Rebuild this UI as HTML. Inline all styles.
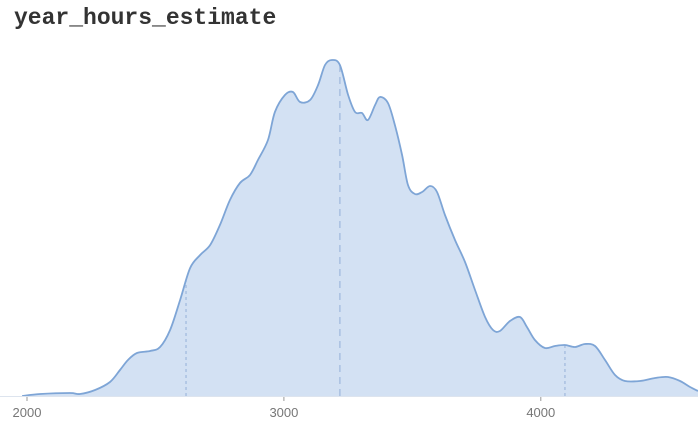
<!DOCTYPE html>
<html><head><meta charset="utf-8">
<style>
body{margin:0;background:#fff;width:698px;height:428px;overflow:hidden;}
#title{position:absolute;left:14px;top:5px;font:bold 23px "Liberation Mono",monospace;color:#333;}
svg{position:absolute;left:0;top:0;}
</style></head><body>
<div id="title">year_hours_estimate</div>
<svg id="chart" width="698" height="428"></svg>
<script>
const xs=[1981,2051,2167,2206,2265,2323,2362,2393,2428,2479,2518,2557,2596,2635,2674,2713,2751,2790,2829,2868,2899,2938,2965,3004,3035,3063,3102,3133,3160,3187,3218,3250,3277,3304,3327,3355,3374,3405,3432,3460,3483,3510,3538,3569,3596,3627,3666,3705,3744,3783,3814,3841,3880,3919,3946,3977,4016,4055,4094,4133,4172,4211,4250,4289,4328,4386,4445,4495,4542,4581,4612];
const dens=[0,2,3,2,6,14,26,36,43,45,49,66,96,128,141,151,171,196,213,221,236,256,284,301,304,294,296,311,331,336,331,301,284,283,276,291,299,293,271,241,211,202,204,210,204,181,156,134,106,79,66,65,75,79,69,56,48,50,51,49,52,50,36,21,15,15,18,19,15,9,5];
const quantiles=[2619,3218,4094];
const ticks=[2000,3000,4000];
const NS="http://www.w3.org/2000/svg";
const svg=document.getElementById('chart');
const X=v=>27+(v-2000)*0.2569;
const Y=d=>396-d;
function interp(v){for(let i=1;i<xs.length;i++){if(xs[i]>=v){const t=(v-xs[i-1])/(xs[i]-xs[i-1]);return dens[i-1]+t*(dens[i]-dens[i-1]);}}return 0;}
function el(t,a){const e=document.createElementNS(NS,t);for(const k in a)e.setAttribute(k,a[k]);svg.appendChild(e);return e;}
let pts=xs.map((v,i)=>[X(v),Y(dens[i])]);
// smooth path via catmull-rom
let d='M'+pts[0][0]+','+pts[0][1];
for(let i=0;i<pts.length-1;i++){const p0=pts[i-1]||pts[i],p1=pts[i],p2=pts[i+1],p3=pts[i+2]||p2;
d+=` C${p1[0]+(p2[0]-p0[0])/6},${p1[1]+(p2[1]-p0[1])/6} ${p2[0]-(p3[0]-p1[0])/6},${p2[1]-(p3[1]-p1[1])/6} ${p2[0]},${p2[1]}`;}
const area=el('path',{d:d+` L${pts[pts.length-1][0]},396 L${pts[0][0]},396 Z`,fill:'#d3e1f3',stroke:'none'});


quantiles.forEach((q,i)=>{const l=el('line',{x1:X(q),x2:X(q),y1:396,y2:Y(interp(q)),stroke:'#9fb8dc','stroke-width':1.2,'stroke-dasharray':i==1?'7,5':'3,3'});

});
const line=el('path',{d:d,fill:'none',stroke:'#7ea5d6','stroke-width':1.8});


const ax=el('line',{x1:0,x2:698,y1:396.5,y2:396.5,stroke:'#dde4ee','stroke-width':1});


ticks.forEach(t=>{const tk=el('line',{x1:X(t),x2:X(t),y1:397,y2:401,stroke:'#999'});


const tx=el('text',{x:X(t),y:417,'text-anchor':'middle','font-family':'Liberation Sans, sans-serif','font-size':13,fill:'#777'});
tx.textContent=t;

});
</script>
</body></html>
